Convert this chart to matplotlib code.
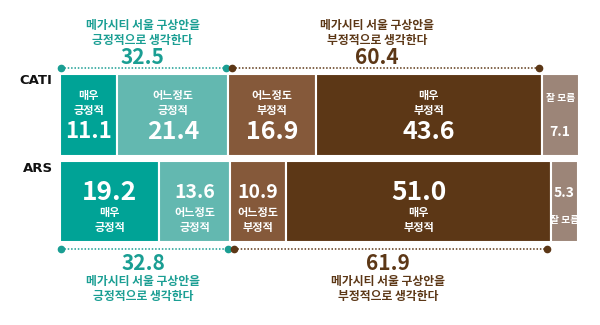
"""
Megacity Seoul survey: CATI vs ARS stacked bars
"""
import numpy as np
import matplotlib
matplotlib.use("Agg")
import matplotlib.pyplot as plt

plt.rcParams['font.family'] = ['Noto Sans CJK KR', 'DejaVu Sans']

# data
methods = ['CATI', 'ARS']
categories = ['매우\n긍정적', '어느정도\n긍정적', '어느정도\n부정적', '매우\n부정적', '잘 모름']
cati_values = [11.1, 21.4, 16.9, 43.6, 7.1]
ars_values = [19.2, 13.6, 10.9, 51.0, 5.3]
cati_totals = [32.5, 60.4]
ars_totals = [32.8, 61.9]
total_positive_text = '메가시티 서울 구상안을\n긍정적으로 생각한다'
total_negative_text = '메가시티 서울 구상안을\n부정적으로 생각한다'

colors = ['#00a396', '#63b8b0', '#85593a', '#5c3716', '#9c8578']
teal = '#1a9e93'
brown = '#5c3716'

fig = plt.figure(figsize=(6, 3.25), dpi=100)
ax = fig.add_axes([0, 0, 1, 1])
scale = 518 / 100.0
ax.set_xlim(-60 / scale, 540 / scale)
ax.set_ylim(325, 0)
ax.axis('off')

rows = [
    (cati_values, 115, 82, 'top'),
    (ars_values, 201.5, 81, 'bottom'),
]

for values, yc, h, mode in rows:
    lefts = np.concatenate([[0], np.cumsum(values)[:-1]])
    ax.barh(yc, values, left=lefts, height=h, color=colors,
            edgecolor='white', linewidth=1.5)
    for i, (v, l) in enumerate(zip(values, lefts)):
        cx = l + v / 2
        if i == 4:
            nsize = 10
        elif mode == 'top':
            nsize = 18 if v > 16 and i != 0 else 16
        else:
            nsize = 19 if v >= 19 else 14
        lab = categories[i]
        lsize = 7 if i == 4 else 8
        if mode == 'top':
            ly = 98 if i == 4 else 103
            ax.text(cx, ly, lab, ha='center', va='center', color='white',
                    fontsize=lsize, fontweight='bold', linespacing=1.25)
            ax.text(cx, 132, f'{v:.1f}', ha='center', va='center',
                    color='white', fontsize=nsize, fontweight='bold')
        else:
            ly = 220
            ax.text(cx, 193, f'{v:.1f}', ha='center', va='center',
                    color='white', fontsize=nsize, fontweight='bold')
            ax.text(cx, ly, lab, ha='center', va='center', color='white',
                    fontsize=lsize, fontweight='bold', linespacing=1.25)

# row labels
ax.text(-1.4, 80, methods[0], ha='right', va='center', fontsize=9.5,
        fontweight='bold', color='#111111', family='DejaVu Sans')
ax.text(-1.4, 168, methods[1], ha='right', va='center', fontsize=9.5,
        fontweight='bold', color='#111111', family='DejaVu Sans')


def bracket(values, totals, y, mode, neg_cx):
    pos_end = sum(values[:2])
    neg_end = pos_end + sum(values[2:4])
    ax.plot([0.2, pos_end - 0.4], [y, y], color=teal, linestyle=(0, (1, 1.2)),
            linewidth=1.1)
    ax.plot([0.2, pos_end - 0.4], [y, y], 'o', color=teal, markersize=4.5)
    ax.plot([pos_end + 0.8, neg_end - 0.6], [y, y], color=brown,
            linestyle=(0, (1, 1.2)), linewidth=1.1)
    ax.plot([pos_end + 0.8, neg_end - 0.6], [y, y], 'o', color=brown,
            markersize=4.5)
    pcx = pos_end / 2 - 0.3
    if mode == 'top':
        ax.text(pcx, 33, total_positive_text, ha='center', va='center',
                color=teal, fontsize=8.5, fontweight='bold', linespacing=1.2)
        ax.text(pcx, 57, f'{totals[0]:.1f}', ha='center', va='center',
                color=teal, fontsize=15, fontweight='bold')
        ax.text(neg_cx, 33, total_negative_text, ha='center', va='center',
                color=brown, fontsize=8.5, fontweight='bold', linespacing=1.2)
        ax.text(neg_cx, 57, f'{totals[1]:.1f}', ha='center', va='center',
                color=brown, fontsize=15, fontweight='bold')
    else:
        ax.text(pcx, 263, f'{totals[0]:.1f}', ha='center', va='center',
                color=teal, fontsize=15, fontweight='bold')
        ax.text(pcx, 289, total_positive_text, ha='center', va='center',
                color=teal, fontsize=8.5, fontweight='bold', linespacing=1.2)
        ax.text(neg_cx, 263, f'{totals[1]:.1f}', ha='center', va='center',
                color=brown, fontsize=15, fontweight='bold')
        ax.text(neg_cx, 289, total_negative_text, ha='center', va='center',
                color=brown, fontsize=8.5, fontweight='bold', linespacing=1.2)


bracket(cati_values, cati_totals, 68, 'top', 61.2)
bracket(ars_values, ars_totals, 249, 'bottom', 63.3)

fig.savefig('out.png', dpi=100, facecolor='white')
